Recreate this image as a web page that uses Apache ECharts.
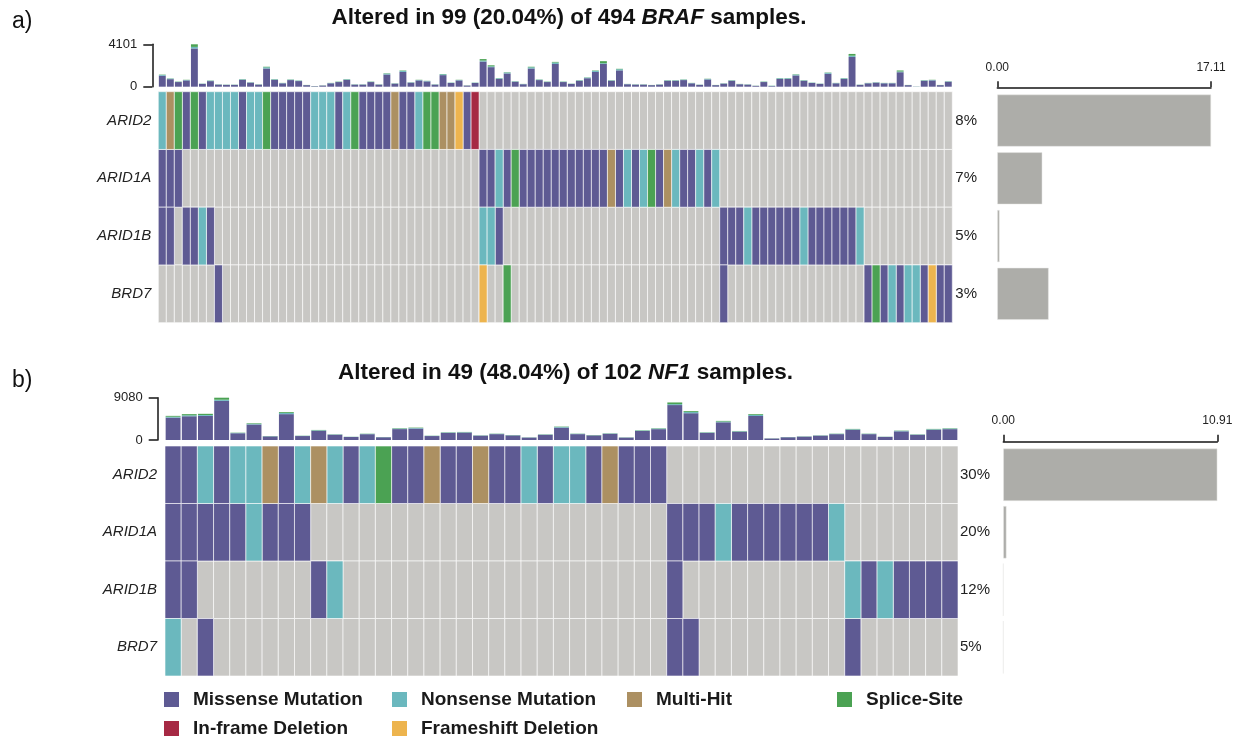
<!DOCTYPE html>
<html>
<head>
<meta charset="utf-8">
<script src="https://cdn.jsdelivr.net/npm/echarts@6/dist/echarts.min.js"></script>
<style>
  html, body { margin: 0; padding: 0; background: #ffffff; }
  #chart { width: 1239px; height: 736px; }
</style>
</head>
<body>
<div id="chart"></div>
<script>
const FONT = '"Liberation Sans", Arial, Helvetica, sans-serif';

const genes = ['ARID2', 'ARID1A', 'ARID1B', 'BRD7'];
const variantNames = ['Missense Mutation', 'Nonsense Mutation', 'Multi-Hit', 'Splice-Site', 'In-frame Deletion', 'Frameshift Deletion'];
const variantCodes = ['M', 'N', 'H', 'S', 'I', 'F'];
const variantColors = ['#5E5A93', '#6BB8BE', '#AC9062', '#4BA253', '#A62944', '#EDB44E'];
const emptyCellColor = '#C8C7C4';
const scoreBarColor = '#ADADA9';

// ---- BRAF cohort (99 altered samples) ----
// One string per gene, one character per sample, grouped by ten; '.' = no alteration.
const brafRows = [
  'NHSMSMNNNN MNNSMMMMMN NNMNSMMMMH MMNSSHHFMI .......... .......... .......... .......... .......... .........',
  'MMM....... .......... .......... .......... MMNMSMMMMM MMMMMMHMNM NSMHNMMNMN .......... .......... .........',
  'MM.MMNM... .......... .......... .......... NNM....... .......... .......... MMMNMMMMMM NMMMMMMN.. .........',
  '.......M.. .......... .......... .......... F..S...... .......... .......... M......... ........MS MNMNNMFMM'
];
const brafPct = ['8%', '7%', '5%', '3%'];
const brafScore = [17.11, 3.60, 0.18, 4.11];
const brafScoreMax = 17.11;
const brafTmbMax = 4101;
const brafMissense = [
  1060, 730, 450, 610, 3700, 270, 540, 200, 175, 175,
  660, 390, 200, 1760, 660, 330, 640, 545, 150, 50,
  110, 330, 450, 660, 200, 200, 450, 200, 1180, 295,
  1430, 390, 610, 515, 200, 1120, 360, 610, 110, 360,
  2430, 1890, 750, 1280, 480, 240, 1760, 640, 450, 2200,
  450, 270, 570, 820, 1430, 2200, 570, 1580, 240, 200,
  200, 150, 200, 570, 570, 640, 330, 175, 700, 150,
  295, 570, 240, 200, 80, 450, 60, 750, 750, 1090,
  570, 360, 270, 1250, 330, 750, 2880, 175, 330, 390,
  330, 330, 1400, 150, 15, 570, 610, 150, 480
];
const brafNonsense = [
  80, 50, 30, 40, 150, 20, 40, 20, 15, 15,
  50, 30, 20, 120, 50, 30, 40, 40, 10, 10,
  10, 30, 30, 50, 20, 20, 30, 20, 90, 25,
  100, 30, 40, 40, 20, 80, 30, 40, 10, 30,
  100, 80, 60, 90, 35, 20, 120, 40, 30, 140,
  30, 20, 40, 60, 100, 70, 40, 110, 20, 20,
  20, 10, 20, 40, 40, 40, 30, 15, 50, 10,
  25, 40, 20, 20, 10, 30, 30, 60, 60, 80,
  40, 30, 20, 90, 30, 60, 120, 15, 30, 30,
  30, 30, 70, 10, 10, 40, 40, 10, 35
];
const brafSplice = [
  30, 20, 20, 20, 251, 10, 20, 10, 10, 10,
  20, 10, 10, 50, 20, 10, 20, 15, 10, 10,
  10, 10, 20, 20, 10, 10, 20, 10, 30, 10,
  40, 10, 20, 15, 10, 30, 10, 20, 10, 10,
  140, 100, 20, 30, 15, 10, 50, 20, 20, 60,
  20, 10, 20, 20, 40, 200, 20, 40, 10, 10,
  10, 10, 10, 20, 20, 20, 10, 10, 20, 10,
  10, 20, 10, 10, 10, 20, 10, 20, 20, 30,
  20, 10, 10, 30, 10, 20, 170, 10, 10, 10,
  10, 10, 100, 10, 5, 20, 20, 10, 15
];

// ---- NF1 cohort (49 altered samples) ----
const nf1Rows = [
  'MMNMNNHMNH NMNSMMHMMH MMNMNNMHMM M......... .........',
  'MMMMMNMMM. .......... .......... .MMMNMMMMM MN.......',
  'MM.......M N......... .......... .M........ ..NMNMMMM',
  'N.M....... .......... .......... .MM....... ..M......'
];
const nf1Pct = ['30%', '20%', '12%', '5%'];
const nf1Score = [10.91, 0.16, 0, 0];
const nf1ScoreMax = 10.91;
const nf1TmbMax = 9080;
const nf1Missense = [
  4800, 5100, 5170, 8400, 1450, 3330, 780, 5550, 850, 1990,
  1130, 650, 1250, 590, 2340, 2460, 850, 1530, 1600, 930,
  1260, 990, 520, 1120, 2660, 1260, 990, 1330, 520, 1930,
  2330, 7500, 5750, 1530, 3800, 1790, 5150, 320, 590, 720,
  930, 1260, 2200, 1260, 660, 1860, 1120, 2200, 2330
];
const nf1Nonsense = [
  200, 200, 200, 250, 80, 150, 50, 250, 50, 100,
  60, 40, 70, 40, 110, 120, 50, 80, 80, 50,
  70, 50, 40, 60, 150, 70, 40, 70, 40, 100,
  120, 200, 250, 80, 170, 90, 220, 20, 40, 40,
  50, 70, 110, 70, 40, 100, 60, 110, 120
];
const nf1Splice = [
  180, 250, 250, 430, 50, 120, 30, 180, 30, 70,
  40, 20, 40, 20, 80, 80, 30, 50, 50, 30,
  40, 40, 20, 40, 70, 40, 50, 40, 20, 60,
  70, 360, 190, 50, 130, 60, 170, 20, 20, 30,
  30, 40, 70, 40, 20, 60, 40, 70, 70
];

// ---- helpers ----
const parseRow = s => s.replace(/\s+/g, '').split('');

function renderCell(params, api) {
  const c = api.coord([api.value(0), api.value(1)]);
  const s = api.size([1, 1]);
  return {
    type: 'rect',
    shape: { x: c[0] - s[0] / 2, y: c[1] - s[1] / 2, width: s[0], height: s[1] },
    style: { fill: api.visual('color'), stroke: 'rgba(255,255,255,0.6)', lineWidth: 1 }
  };
}

const option = {
  animation: false,
  backgroundColor: '#ffffff',
  textStyle: { fontFamily: FONT },
  grid: [],
  xAxis: [],
  yAxis: [],
  series: [],
  legend: [],
  graphic: []
};

function addPanel(p) {
  const g0 = option.grid.length;
  const x0 = option.xAxis.length;
  const y0 = option.yAxis.length;
  const rows = p.rows.map(parseRow);
  const n = rows[0].length;
  const samples = rows[0].map((_, i) => 'S' + (i + 1));
  const axisColor = '#151515';

  option.grid.push(
    { left: p.left, top: p.barTop, width: p.width, height: p.barHeight },
    { left: p.left, top: p.gridTop, width: p.width, height: p.gridHeight },
    { left: p.scoreLeft, top: p.gridTop, width: p.scoreWidth, height: p.gridHeight }
  );

  option.xAxis.push(
    { gridIndex: g0, type: 'category', data: samples, show: false },
    { gridIndex: g0 + 1, type: 'category', data: samples, show: false },
    {
      gridIndex: g0 + 2, type: 'value', position: 'top', min: 0, max: p.scoreMax, interval: p.scoreMax,
      offset: p.scoreAxisOffset,
      axisLine: { show: true, lineStyle: { color: axisColor, width: 1.5 } },
      axisTick: { show: true, length: p.scoreTickLen, lineStyle: { color: axisColor, width: 1.5 } },
      axisLabel: { formatter: v => v.toFixed(2), fontSize: 12, color: '#222', margin: p.scoreLabelMargin, fontFamily: FONT, showMinLabel: true, showMaxLabel: true },
      splitLine: { show: false }
    }
  );

  option.yAxis.push(
    {
      gridIndex: g0, type: 'value', min: 0, max: p.tmbMax, interval: p.tmbMax, offset: p.tmbAxisOffset,
      axisLine: { show: true, lineStyle: { color: axisColor, width: 1.5 } },
      axisTick: { show: true, length: 9, lineStyle: { color: axisColor, width: 1.5 } },
      axisLabel: { formatter: v => String(v), fontSize: 13, color: '#222', margin: 15, fontFamily: FONT, showMinLabel: true, showMaxLabel: true },
      splitLine: { show: false }
    },
    {
      gridIndex: g0 + 1, type: 'category', data: genes, inverse: true,
      axisLine: { show: false }, axisTick: { show: false },
      axisLabel: { fontStyle: 'italic', fontSize: 15, color: '#222', margin: p.geneMargin, fontFamily: FONT }
    },
    {
      gridIndex: g0 + 1, type: 'category', data: p.pct, inverse: true, position: 'right',
      axisLine: { show: false }, axisTick: { show: false },
      axisLabel: { fontSize: 15, color: '#222', margin: p.pctMargin, fontFamily: FONT }
    },
    { gridIndex: g0 + 2, type: 'category', data: genes, inverse: true, show: false }
  );

  // mutation count bars above the matrix
  const stacks = [
    ['Missense Mutation', p.missense, variantColors[0]],
    ['Nonsense Mutation', p.nonsense, variantColors[1]],
    ['Splice-Site', p.splice, variantColors[3]]
  ];
  stacks.forEach(([name, data, color]) => {
    option.series.push({
      name, type: 'bar', stack: 'tmb' + g0, xAxisIndex: x0, yAxisIndex: y0,
      data, barCategoryGap: p.barGap, itemStyle: { color }, silent: true
    });
  });

  // empty matrix background
  const allCells = [];
  for (let g = 0; g < genes.length; g++) for (let i = 0; i < n; i++) allCells.push([i, g]);
  option.series.push({
    name: 'none', type: 'custom', xAxisIndex: x0 + 1, yAxisIndex: y0 + 1,
    renderItem: renderCell, data: allCells, itemStyle: { color: emptyCellColor }, silent: true
  });

  // altered cells, one series per variant class
  variantCodes.forEach((code, k) => {
    const cells = [];
    rows.forEach((r, g) => r.forEach((ch, i) => { if (ch === code) cells.push([i, g]); }));
    option.series.push({
      name: variantNames[k], type: 'custom', xAxisIndex: x0 + 1, yAxisIndex: y0 + 1,
      renderItem: renderCell, data: cells, itemStyle: { color: variantColors[k] }, silent: true
    });
  });

  // per-gene score bars on the right
  option.series.push({
    name: 'score', type: 'bar', xAxisIndex: x0 + 2, yAxisIndex: y0 + 3,
    data: p.score, barCategoryGap: p.scoreGap,
    itemStyle: { color: scoreBarColor, borderColor: '#e6e6e4', borderWidth: 0.5 }, silent: true
  });

  // panel letter and title
  option.graphic.push(
    { type: 'text', x: 12, y: p.letterY, style: { text: p.letter, font: '23px ' + FONT, fill: '#111', verticalAlign: 'middle' } },
    {
      type: 'text', x: p.titleX, y: p.titleY,
      style: {
        text: '{n|Altered in ' + p.titleCounts + ' of ' + p.titleTotal + ' }{i|' + p.titleGene + '}{n| samples.}',
        align: 'center', verticalAlign: 'middle',
        rich: {
          n: { font: 'bold 22.5px ' + FONT, fill: '#111' },
          i: { font: 'italic bold 22.5px ' + FONT, fill: '#111' }
        }
      }
    }
  );
}

addPanel({
  rows: brafRows, pct: brafPct, score: brafScore, scoreMax: brafScoreMax, tmbMax: brafTmbMax,
  missense: brafMissense, nonsense: brafNonsense, splice: brafSplice,
  left: 158.3, width: 794, barTop: 44.3, barHeight: 42.4, gridTop: 91.7, gridHeight: 231,
  scoreLeft: 997.3, scoreWidth: 213.7, scoreAxisOffset: 4.4, scoreTickLen: 6, scoreLabelMargin: 14,
  tmbAxisOffset: 6, geneMargin: 7, pctMargin: 3, barGap: '14%', scoreGap: '10%',
  letter: 'a)', letterY: 22, titleX: 569, titleY: 18,
  titleCounts: '99 (20.04%)', titleTotal: '494', titleGene: 'BRAF'
});

addPanel({
  rows: nf1Rows, pct: nf1Pct, score: nf1Score, scoreMax: nf1ScoreMax, tmbMax: nf1TmbMax,
  missense: nf1Missense, nonsense: nf1Nonsense, splice: nf1Splice,
  left: 165, width: 793, barTop: 397.7, barHeight: 42.3, gridTop: 446, gridHeight: 230,
  scoreLeft: 1003.3, scoreWidth: 214, scoreAxisOffset: 4.3, scoreTickLen: 7, scoreLabelMargin: 15,
  tmbAxisOffset: 7.3, geneMargin: 8, pctMargin: 2, barGap: '8%', scoreGap: '9%',
  letter: 'b)', letterY: 381, titleX: 565.5, titleY: 373,
  titleCounts: '49 (48.04%)', titleTotal: '102', titleGene: 'NF1'
});

// legend: one entry per slot so the two rows line up in columns
const legendSlots = [
  [0, 164, 690], [1, 392, 690], [2, 627, 690], [3, 837, 690],
  [4, 164, 719], [5, 392, 719]
];
legendSlots.forEach(([k, left, top]) => {
  option.legend.push({
    data: [variantNames[k]], left, top, padding: 0, orient: 'horizontal',
    icon: 'rect', itemWidth: 15, itemHeight: 15, selectedMode: false,
    textStyle: { fontSize: 19, fontWeight: 'bold', color: '#1a1a1a', fontFamily: FONT, lineHeight: 15, padding: [0, 0, 0, 9] }
  });
});

const chart = echarts.init(document.getElementById('chart'), null, { renderer: 'canvas' });
chart.setOption(option);
</script>
</body>
</html>
